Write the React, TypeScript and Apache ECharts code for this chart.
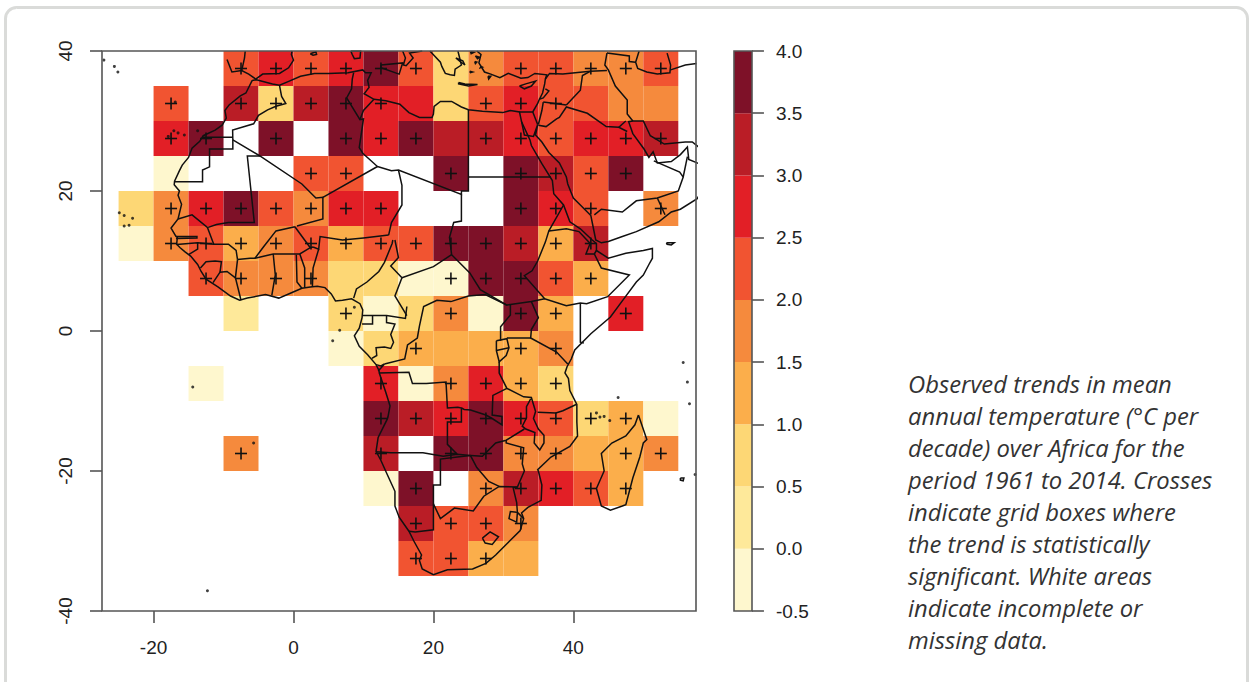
import React, { useEffect, useRef } from "react";
import * as echarts from "echarts";

const _ = null;
const cellLons = [-25, -20, -15, -10, -5, 0, 5, 10, 15, 20, 25, 30, 35, 40, 45, 50];
const cellLats = [35, 30, 25, 20, 15, 10, 5, 0, -5, -10, -15, -20, -25, -30, -35];

// Trend (deg C per decade) read as the middle of each colour class, one row per latitude band
const trend35 = [_, _, _, 2.25, 2.75, 2.25, 2.75, 3.75, 2.25, 0.75, 1.75, 2.25, 2.25, 1.75, 1.75, 2.25];
const trend30 = [_, 2.25, _, 3.25, 0.75, 3.25, 3.75, 2.75, 2.75, 0.75, 2.25, 2.75, 2.25, 2.25, 1.75, 1.75];
const trend25 = [_, 2.75, 3.75, _, 3.75, _, 3.75, 2.75, 3.75, 3.25, 3.25, 2.75, 2.25, 2.75, 2.75, 3.25];
const trend20 = [_, -0.25, _, _, _, 2.25, 2.25, _, _, 3.75, _, 3.75, 3.25, 2.25, 3.75, _];
const trend15 = [0.75, 1.75, 2.75, 3.75, 2.25, 1.75, 2.75, 2.75, _, _, _, 3.75, 2.75, 2.25, _, 1.75];
const trend10 = [-0.25, 1.75, 2.25, 1.25, 1.75, 2.25, 1.25, 2.25, 2.25, 3.75, 3.75, 3.25, 1.25, 3.25, _, _];
const trend5 = [_, _, 2.25, 1.75, 1.75, 1.75, 0.75, 0.75, -0.25, -0.25, 3.75, 3.75, 2.25, 1.25, _, _];
const trend0 = [_, _, _, 0.25, _, _, 0.75, -0.25, 0.75, 1.75, -0.25, 3.75, 1.25, _, 2.75, _];
const trendM5 = [_, _, _, _, _, _, -0.25, 0.75, 1.25, 1.25, 1.25, 1.25, 1.75, _, _, _];
const trendM10 = [_, _, -0.25, _, _, _, _, 2.75, -0.25, 1.75, 2.75, 1.25, 0.75, _, _, _];
const trendM15 = [_, _, _, _, _, _, _, 3.75, 3.25, 2.75, 3.75, 2.75, 2.25, 0.75, 1.25, -0.25];
const trendM20 = [_, _, _, 1.75, _, _, _, 3.25, _, 3.75, 3.75, 1.75, 1.75, 1.25, 1.25, 1.75];
const trendM25 = [_, _, _, _, _, _, _, -0.25, 3.75, _, 1.75, 3.25, 2.75, 2.25, 1.25, _];
const trendM30 = [_, _, _, _, _, _, _, _, 3.25, 2.25, 2.25, 1.75, _, _, _, _];
const trendM35 = [_, _, _, _, _, _, _, _, 2.25, 2.25, 1.25, 1.25, _, _, _, _];
const trendRows = [trend35, trend30, trend25, trend20, trend15, trend10, trend5, trend0, trendM5, trendM10, trendM15, trendM20, trendM25, trendM30, trendM35];

// Western edges of the significant boxes in each latitude band
const signif35 = [-10, -5, 0, 5, 10, 15, 30, 35, 40, 45, 50];
const signif30 = [-20, -10, -5, 0, 5, 10, 25, 30, 35];
const signif25 = [-20, -15, -5, 5, 10, 15, 25, 30, 35, 40, 45, 50];
const signif20 = [0, 5, 20, 30, 35, 40, 45];
const signif15 = [-20, -15, -10, -5, 0, 5, 10, 30, 35, 40, 50];
const signif10 = [-20, -15, -10, -5, 0, 5, 10, 15, 20, 25, 30, 35, 40];
const signif5 = [-15, -10, -5, 0, 20, 25, 30, 35, 40];
const signif0 = [5, 20, 30, 35, 45];
const signifM5 = [15, 30, 35];
const signifM10 = [10, 20, 25, 30, 35];
const signifM15 = [10, 15, 20, 25, 30, 35, 40, 45];
const signifM20 = [-10, 10, 20, 25, 30, 35, 45, 50];
const signifM25 = [15, 25, 30, 35, 40, 45];
const signifM30 = [15, 20, 25, 30];
const signifM35 = [15, 20, 25];
const signifRows = [signif35, signif30, signif25, signif20, signif15, signif10, signif5, signif0, signifM5, signifM10, signifM15, signifM20, signifM25, signifM30, signifM35];

const colourBreaks = [-0.5, 0, 0.5, 1, 1.5, 2, 2.5, 3, 3.5, 4];
const colourClasses = ["#FEF7CE", "#FEE99A", "#FDD775", "#FBAE4B", "#F58A3D", "#F15431", "#E21F26", "#BA1D26", "#7E1128"];

const xTicks = [-20, 0, 20, 40];
const yTicks = [-40, -20, 0, 20, 40];

const caption = [
  "Observed trends in mean",
  "annual temperature (°C per",
  "decade) over Africa for the",
  "period 1961 to 2014. Crosses",
  "indicate grid boxes where",
  "the trend is statistically",
  "significant. White areas",
  "indicate incomplete or",
  "missing data.",
];

// Map outlines as lon,lat lists
const africaCoast = [-5.9,35.8,-6.8,34.0,-7.6,33.6,-9.2,32.3,-9.8,31.5,-9.6,30.4,-10.2,29.4,-11.2,28.7,-12.9,27.9,-13.4,27.1,-14.5,26.1,-15.0,24.8,-15.9,23.7,-16.3,22.9,-17.0,21.4,-17.05,20.9,-16.3,20.0,-16.5,19.4,-16.0,18.1,-16.5,16.0,-17.5,14.7,-16.8,13.5,-16.6,13.4,-16.7,12.4,-16.2,11.9,-15.5,11.3,-14.7,10.7,-13.7,9.5,-13.2,8.5,-12.5,7.4,-10.8,6.3,-9.0,5.0,-7.7,4.4,-6.6,4.7,-4.0,5.2,-2.1,4.7,-0.2,5.5,1.2,6.1,2.4,6.3,3.4,6.4,4.5,6.2,5.4,5.3,6.0,4.3,7.0,4.4,8.3,4.6,9.5,3.9,9.9,3.0,9.8,1.9,9.4,0.4,8.7,-0.7,9.4,-2.2,10.6,-3.4,11.8,-4.8,12.2,-5.6,12.3,-6.1,13.2,-8.8,13.8,-10.7,13.5,-12.3,13.4,-12.6,12.1,-15.2,11.8,-17.2,12.5,-18.5,13.4,-20.5,14.5,-22.9,14.5,-25,15.1,-26.6,16.5,-28.6,17.2,-30,18.3,-32,18.0,-32.8,18.4,-34.0,20.0,-34.8,22.0,-34.1,25.6,-34.0,27.5,-33.2,28.9,-32,30.4,-30.5,31.0,-29.9,32.4,-28.5,32.9,-26.8,32.6,-26,33.5,-25.2,35.4,-24.2,35.5,-22,35.0,-20,34.9,-19.8,36.8,-18,39.5,-16.5,40.6,-15,40.5,-13,40.5,-10.5,39.5,-8.5,39.3,-6.8,38.8,-6,39.1,-5.1,39.7,-4,40.2,-2.7,42.5,-0.4,45.3,2.0,47,4.3,49,7,50,8,50.8,9.5,51.3,10.4,51.3,11.8,50,11.5,47.5,11.1,45,10.4,43.3,11.5,43.3,12.5,42.7,13,41,14.6,39.5,15.6,38.6,18,37.2,19.6,37.0,21.5,35.5,23.9,34,26.5,33.8,27.3,32.6,29.9,32.3,31.3,31,31.5,29.9,31.2,27,31.4,25,31.6,24,32,22.6,32.8,21,32.8,20.1,32.1,20,31,19.8,30.5,18,30.5,16.5,31.2,15.2,32.4,13.2,32.9,11.5,33.1,10.1,33.9,10.8,34.8,10.6,35.8,11.1,36.9,10.3,36.9,9.9,37.3,7.8,36.9,5,36.8,3.0,36.8,1,36.4,-0.6,35.7,-2,35.1,-3,35.3,-5.3,35.9,-5.9,35.8];

const madagascar = [49.3,-12,50.5,-15.5,50,-16,49.5,-18,48.5,-21,47.5,-24.8,47,-25,45.3,-25.6,44,-25,43.3,-22.5,44.4,-20,44,-17.5,45.5,-16,47.5,-15,48.8,-13.4,49.3,-12];
const arabia = [32.6,29.9,33,28,34.3,27.8,34.9,29.5,34.6,28,35.5,27,36.5,25.5,38,24,39,22,39.2,21,40,19,41,18,42.5,16.5,42.8,15,43.2,13,44,12.6,45,12.8,47,13.5,49,14.2,52.2,15.6,54,17,55.3,17.4,57.7,18.9,58.6,20.5];
const gulfCoast = [59.8,22.5,58.7,23.6,56.5,24.5,56.3,26.3,55.3,25.2,54,24.2,52,24,51.4,25.6,50.8,24.8,50.1,26,48.5,28.2,47.9,29.9,48.5,30,50,30,51,27.9,53,26.7,56,27,57,27,59,25.4];
const levantCoast = [32.3,31.3,34.2,31.3,34.9,32.5,35.1,33,35.6,34,35.9,35.3,36,36,36.2,36.6,34.5,36.8,33.5,36.2,32.5,36.1,30.7,36.8,29.5,36.2,28.2,36.7,27.3,37,26.5,38.3,26.8,39.5,26.2,40];
const caspianSouth = [49.4,40,48.9,38.4,49.2,37.5,50.5,37,52,36.7,53.8,36.9,53.9,38,53.4,39.7];
const cyprus = [32.3,35,33,34.6,34,35,34.6,35.7,33.2,35.3,32.3,35];
const crete = [23.6,35.5,24.5,35.3,26.3,35.2,25,35,23.6,35.3,23.6,35.5];
const greece = [23.5,40,24,38,23.1,37.4,23,36.5,22.4,36.6,21.7,36.8,21.2,37.8,21,38.4,19.5,40];
const euboea = [23.2,39,24.2,38.6,24.5,38,23.8,38.5,23.2,39];
const aegeanA = [25.3,39.9,25.8,39.8,25.4,39.6,25.3,39.9];
const aegeanB = [26,39.3,26.6,39.1,26.3,38.9,26,39.3];
const aegeanC = [25.9,38.5,26.2,38.4,26,38.2,25.9,38.5];
const aegeanD = [27.8,36.4,28.2,36.4,27.9,36,27.8,36.4];
const aegeanE = [25.2,37.1,25.6,37,25.3,36.9,25.2,37.1];
const aegeanF = [26.8,37.8,27,37.7,26.7,37.6,26.8,37.8];
const sicily = [12.5,38,15.6,38.3,15.1,36.7,12.5,37.6,12.5,38];
const italyToe = [15.6,40,16,39,15.7,38,16.1,37.9,17.1,39,16.6,39.7,18.4,40];
const sardinia = [8.2,40,9.6,40,9.5,39,8.7,38.9,8.4,39.5,8.2,40];
const iberia = [-9.5,38.8,-8.8,37,-7.4,37.2,-6.4,36.7,-5.4,36,-4.4,36.7,-2,36.8,-0.7,37.6,0,38.7,-0.3,39.5,-0.2,40];
const mallorca = [2.4,39.6,3.2,39.9,3.3,39.5,2.8,39.4,2.4,39.6];
const socotra = [53.3,12.6,54.4,12.6,54.0,12.3,53.4,12.4,53.3,12.6];
const reunion = [55.3,-21,55.8,-21,55.7,-21.4,55.3,-21.3,55.3,-21];
const coastLines = [africaCoast, madagascar, arabia, gulfCoast, levantCoast, caspianSouth, cyprus, crete, greece, euboea, aegeanA, aegeanB, aegeanC, aegeanD, aegeanE, aegeanF, sicily, italyToe, sardinia, iberia, mallorca, socotra, reunion];

const borderLines = [
  [-2,35.1,-1.7,33.5,-1.1,32.5,-2.5,32.1,-3.7,31.6,-5,30.8,-5.7,29.6,-8.7,28.7,-8.67,27.3],
  [-13,27.67,-8.67,27.67],
  [-8.67,27.3,-8.67,26,-12,26,-12,23.45,-13,23,-13,21.33,-17,21.33],
  [-8.67,27.3,-4.8,25,1.2,21,3.2,19,4.2,19.1,4.2,16,0.5,15],
  [-4.8,25,-6.6,25,-5.6,15.5,-9.3,15.5,-11,15.2,-12.2,14.8],
  [-16.5,16,-14.5,16.6,-12.3,14.8,-11.4,12.4],
  [4.2,19.1,12,23.5,9.9,25.4,9.4,26.2,10,30.3,9.5,30.2,7.6,33.3,8.3,34.6,8.4,36,8.6,36.9],
  [9.5,30.2,10,31.5,11.5,33.1],
  [12,23.5,14,22.9,15,23,24,19.5,24,20,25,20,25,22,25,30,25,31.6],
  [25,22,36.8,22],
  [15,23,15.5,20.8,15.5,18,14,15.5,13.6,13.7],
  [24,19.5,24,15.7,22.9,15.5,22.3,13.4,22.6,10.9,25.2,8.3,26.7,5.9,30.5,3.7,31,3.8,34,4.2,35.9,4.6,39,3.6,41,4,41.9,3.9,44.9,4.9,48,8,44,9,43,11],
  [38.6,18,36.5,14.3,36,12.7,34.9,10,34.1,8.6,33,7.9,35.9,4.6],
  [36.5,14.3,39,14.6,40.8,14.2,42.4,12.5,41.8,11,43,11,43.3,11.5],
  [41,4,41,-1.6,41.5,-1.7],
  [34,4.2,35,1.9,34,0.2,33.9,-1,37.6,-3,39.2,-4.7],
  [31,3.8,31,2.3,29.6,0.6,29.6,-1.4],
  [30.5,-1,33.9,-1],
  [29,-1.4,30.5,-1.1,30.8,-2.4,30.4,-3.5,29.4,-4.4,29,-2.8,29,-1.4],
  [29,-2.8,30.8,-2.4],
  [29.4,-4.4,29.4,-6,30.5,-8.2,32.9,-9.4,34,-9.5,34.6,-11.5,34.3,-12.5,35,-14,35.8,-14.9,35.8,-16,35.2,-17,34.4,-16,34.5,-14.5,33.2,-14,32.7,-13.6,33.3,-12.4,33.3,-10.8,33.9,-9.7],
  [34.9,-11.6,37.5,-11.7,38.5,-11.4,40.4,-10.5],
  [33,-14,30.4,-15.6,28.9,-16,27,-17.9,25.3,-17.8],
  [30.4,-15.6,30.4,-16,32.9,-16.7,32.7,-19,33,-20,32,-22.3,31.4,-22.4,31.9,-24.5,32,-25.9,32.9,-26.8],
  [32,-22.3,29.4,-22.2,27.2,-23.6,25.7,-25.7,23,-25.3,21,-26.8,20,-24.7],
  [25.3,-17.8,26.2,-19.5,27.9,-21.5,29.4,-22.2],
  [20,-24.7,20,-22,21,-22,21,-18.3,23.4,-18,25.3,-17.8],
  [11.8,-17.25,13.9,-17.4,18.5,-17.4,21.4,-17.9,23.4,-17.6,25.3,-17.8],
  [20,-24.7,20,-28.4,17.4,-28.7,16.5,-28.6],
  [31.9,-25.9,31,-25.8,30.8,-26.8,31.9,-27.3,32,-25.9],
  [27,-29.6,28.1,-28.7,29.3,-29.4,28.4,-30.5,27.4,-30.3,27,-29.6],
  [23.4,-17.6,22,-16.2,22,-13,24,-13,24,-11,23.5,-10.9,22,-11,21.8,-7.3,19,-7.5,17,-7.5,16.5,-5.9,12.2,-6],
  [24,-11,24.4,-11.2,25.3,-11.3,27.5,-12,28.4,-12.5,29.8,-13.4,29.8,-12.2,28.4,-12,28.5,-9.2,30.5,-8.2],
  [11.8,-4.8,12.5,-5,13,-4.7,12.5,-5.3,12.1,-5.7],
  [13,-4.7,15.9,-4,16.3,-2,17.7,-1,18,0.7,18.6,3.5,20.5,4.4,22.5,4.2,25,5,27.4,5.2,30.5,3.7],
  [11.2,-3.9,11.9,-3.5,11.8,-2.4,13,-2.3,13.9,-2.5,14.3,-1.6,13.9,-0.5,14.5,1,13.3,1.2,13.3,2.2],
  [9.9,2.2,13.3,2.2,16,1.8,16.2,3.5],
  [9.8,1,11.3,1,11.3,2.2],
  [15.5,7.6,14.5,5,16.2,2.2],
  [15.5,7.6,20,9.2,22.6,10.9],
  [8.6,4.7,9,6,10.5,7,12.2,8.5,13,9.8,14.1,12.5,14.2,13],
  [14.5,13,15,10.5,13.9,9.3,15.5,7.6],
  [2.8,12,3.6,11.7,3.8,13.5,7,13,10,13.3,13.6,13.7],
  [2.7,6.3,2.8,9,3.6,11.7],
  [1.6,6.2,1.6,9,0.9,11],
  [1.2,6.1,0.5,7,0.4,10.9],
  [-5.5,10.4,-2.9,11,0.9,11,2.4,11.9,2.8,12],
  [2.4,11.9,0.2,14.9],
  [-5.5,10.4,-4.3,12,-2.5,14.3,0.2,14.9],
  [-2.9,11,-2.6,8,-3.1,5.1],
  [-8,10.2,-6.2,10.4,-5.5,10.4],
  [-8,10.2,-8.3,7.6,-7.5,4.4],
  [-8.3,7.6,-9.5,8.5,-10.5,8.4,-11.5,6.9],
  [-10.5,8.4,-10.3,9.9,-11.2,10,-12.5,9.9,-13.3,9],
  [-8,10.2,-8.2,11.5,-9.3,12.4,-11.4,12.4,-13.7,12.6,-16.7,12.35],
  [-13.7,12.6,-13.7,11.7,-15,10.9],
  [-16.8,13.5,-13.8,13.5,-13.8,13.3,-16.8,13.2],
  [35,29.4,36.1,29.2,37.6,30.3,38,30.5,39,32,42,31.1,44.7,29.2,46.5,29.1,47.7,28.5],
  [46.5,29.1,47.5,30],
  [48.5,30,47.7,31,47.7,33,46,35,45,37.3,44.5,38,44.8,39.7],
  [44.8,39.7,48,39.3,48,38.5,48.9,38.4],
  [53.9,37.3,56,38,57.6,38.2],
  [39,32.3,41,34.4,41.3,36.5,42.4,37.1],
  [36,36,36.6,36.8,38.5,36.7,42.4,37.1,44.8,37.2],
  [35.7,32.7,39,32.3],
  [35.1,33.1,35.7,33.3,36.5,34.3,36,34.6],
  [35.7,32.7,35.5,31.5,35,29.5],
  [34.2,31.3,34.9,29.5],
  [43,16.6,44,17.4,47,17,49,18.6,52,19,55,20,55.7,22,55.2,22.7,51.5,24.3],
  [52,19,53.1,16.6],
  [55.7,22,56.3,24.9],
  [-7.4,37.2,-7,39,-6.9,40],
];

// Small islands as lon,lat points
const islandLons = [-24.9,-24.2,-23.0,-24.2,-23.5,-17.9,-16.5,-13.7,-15.6,-17.1,-25.6,-25.1,-27.1,-16.9,8.7,6.6,5.6,-14.4,-5.7,-12.3,43.3,44.4,45.2,43.8,46.4,55.7,56.3,56.6,57.4];
const islandLats = [16.9,16.5,16.1,15.0,15.1,27.8,28.3,28.6,28,28.6,37.8,37,38.7,32.7,3.4,0.1,-1.4,-8.0,-16.0,-37.1,-11.7,-12.2,-12.8,-12.3,-9.5,-4.5,-7.3,-10.4,-20.5];

const toPairs = (flat: number[]) => {
  const out: number[][] = [];
  for (let i = 0; i < flat.length; i += 2) out.push([flat[i], flat[i + 1]]);
  return out;
};

const classOf = (v: number) => {
  for (let k = 0; k < colourClasses.length; k++) if (v < colourBreaks[k + 1]) return k;
  return colourClasses.length - 1;
};

export default function App() {
  const ref = useRef<HTMLDivElement>(null);
  useEffect(() => {
    const chart = echarts.init(ref.current!, undefined, { renderer: "svg" });
    const cells: number[][] = [];
    trendRows.forEach((row, r) =>
      row.forEach((v, c) => {
        if (v !== null) cells.push([cellLons[c], cellLats[r], v as number]);
      })
    );
    const crosses: number[][] = [];
    signifRows.forEach((row, r) => row.forEach((lon) => crosses.push([lon + 2.5, cellLats[r] + 2.5])));
    const bands = colourClasses.map((_c, k) => [colourBreaks[k], colourBreaks[k + 1], k]);
    const lineCol = "#111";
    const axisCol = "#555";
    const labelStyle = { color: "#222", fontFamily: "Liberation Sans", fontSize: 19 };

    chart.setOption({
      animation: false,
      backgroundColor: "#fff",
      graphic: [
        {
          type: "rect",
          silent: true,
          z: -10,
          shape: { x: 5.5, y: 7.5, width: 1242, height: 720, r: 11 },
          style: { fill: "#fff", stroke: "#DADBD9", lineWidth: 3 },
        },
        {
          type: "text",
          silent: true,
          x: 908,
          y: 368,
          style: {
            text: caption.join("\n"),
            fontFamily: "Open Sans",
            fontStyle: "italic",
            fontSize: 23.8,
            lineHeight: 32,
            fill: "#333",
          },
        },
      ],
      grid: [
        { left: 102, top: 51, width: 594, height: 560, show: true, borderColor: axisCol, borderWidth: 1.6, backgroundColor: "transparent", z: 5 },
        { left: 734, top: 51, width: 18, height: 560, show: true, borderColor: axisCol, borderWidth: 1.6, backgroundColor: "transparent", z: 5 },
      ],
      xAxis: [
        {
          type: "value",
          gridIndex: 0,
          min: -27.37,
          max: 57.53,
          splitLine: { show: false },
          axisLine: { show: false, onZero: false },
          axisTick: { show: true, length: 12, customValues: xTicks, lineStyle: { color: axisCol, width: 1.6 } },
          axisLabel: { show: true, customValues: xTicks, margin: 27, ...labelStyle },
        },
        { type: "value", gridIndex: 1, min: 0, max: 1, show: false },
      ],
      yAxis: [
        {
          type: "value",
          gridIndex: 0,
          min: -40,
          max: 40,
          interval: 20,
          splitLine: { show: false },
          axisLine: { show: false, onZero: false },
          axisTick: { show: true, length: 12, customValues: yTicks, lineStyle: { color: axisCol, width: 1.6 } },
          axisLabel: { show: true, customValues: yTicks, rotate: 90, margin: 27, ...labelStyle },
        },
        {
          type: "value",
          gridIndex: 1,
          position: "right",
          min: -0.5,
          max: 4,
          interval: 0.5,
          splitLine: { show: false },
          axisLine: { show: false, onZero: false },
          axisTick: { show: true, length: 12, lineStyle: { color: axisCol, width: 1.6 } },
          axisLabel: { show: true, margin: 24, formatter: (v: number) => v.toFixed(1), ...labelStyle },
        },
      ],
      series: [
        {
          type: "custom",
          coordinateSystem: "cartesian2d",
          xAxisIndex: 0,
          yAxisIndex: 0,
          silent: true,
          z: 1,
          data: cells,
          renderItem: (_p: any, api: any) => {
            const a = api.coord([api.value(0), api.value(1) + 5]);
            const b = api.coord([api.value(0) + 5, api.value(1)]);
            return {
              type: "rect",
              shape: { x: a[0], y: a[1], width: b[0] - a[0], height: b[1] - a[1] },
              style: { fill: colourClasses[classOf(api.value(2))], stroke: null },
            };
          },
        },
        {
          type: "lines",
          coordinateSystem: "cartesian2d",
          xAxisIndex: 0,
          yAxisIndex: 0,
          polyline: true,
          silent: true,
          clip: true,
          z: 2,
          lineStyle: { color: lineCol, width: 1.5, opacity: 1 },
          data: [...coastLines, ...borderLines].map((l) => ({ coords: toPairs(l) })),
        },
        {
          type: "scatter",
          xAxisIndex: 0,
          yAxisIndex: 0,
          silent: true,
          z: 2,
          symbolSize: 3,
          itemStyle: { color: lineCol },
          data: islandLons.map((lon, i) => [lon, islandLats[i]]),
        },
        {
          type: "custom",
          coordinateSystem: "cartesian2d",
          xAxisIndex: 0,
          yAxisIndex: 0,
          silent: true,
          z: 3,
          data: crosses,
          renderItem: (_p: any, api: any) => {
            const c = api.coord([api.value(0), api.value(1)]);
            const s = { stroke: "#111", lineWidth: 1.6 };
            return {
              type: "group",
              children: [
                { type: "line", shape: { x1: c[0] - 6, y1: c[1], x2: c[0] + 6, y2: c[1] }, style: s },
                { type: "line", shape: { x1: c[0], y1: c[1] - 6, x2: c[0], y2: c[1] + 6 }, style: s },
              ],
            };
          },
        },
        {
          type: "custom",
          coordinateSystem: "cartesian2d",
          xAxisIndex: 1,
          yAxisIndex: 1,
          silent: true,
          z: 1,
          data: bands,
          renderItem: (_p: any, api: any) => {
            const a = api.coord([0, api.value(1)]);
            const b = api.coord([1, api.value(0)]);
            return {
              type: "rect",
              shape: { x: a[0], y: a[1], width: b[0] - a[0], height: b[1] - a[1] },
              style: { fill: colourClasses[api.value(2)], stroke: null },
            };
          },
        },
      ],
    });
    return () => chart.dispose();
  }, []);
  return <div ref={ref} style={{ position: "absolute", left: 0, top: 0, width: 1252, height: 682 }} />;
}
